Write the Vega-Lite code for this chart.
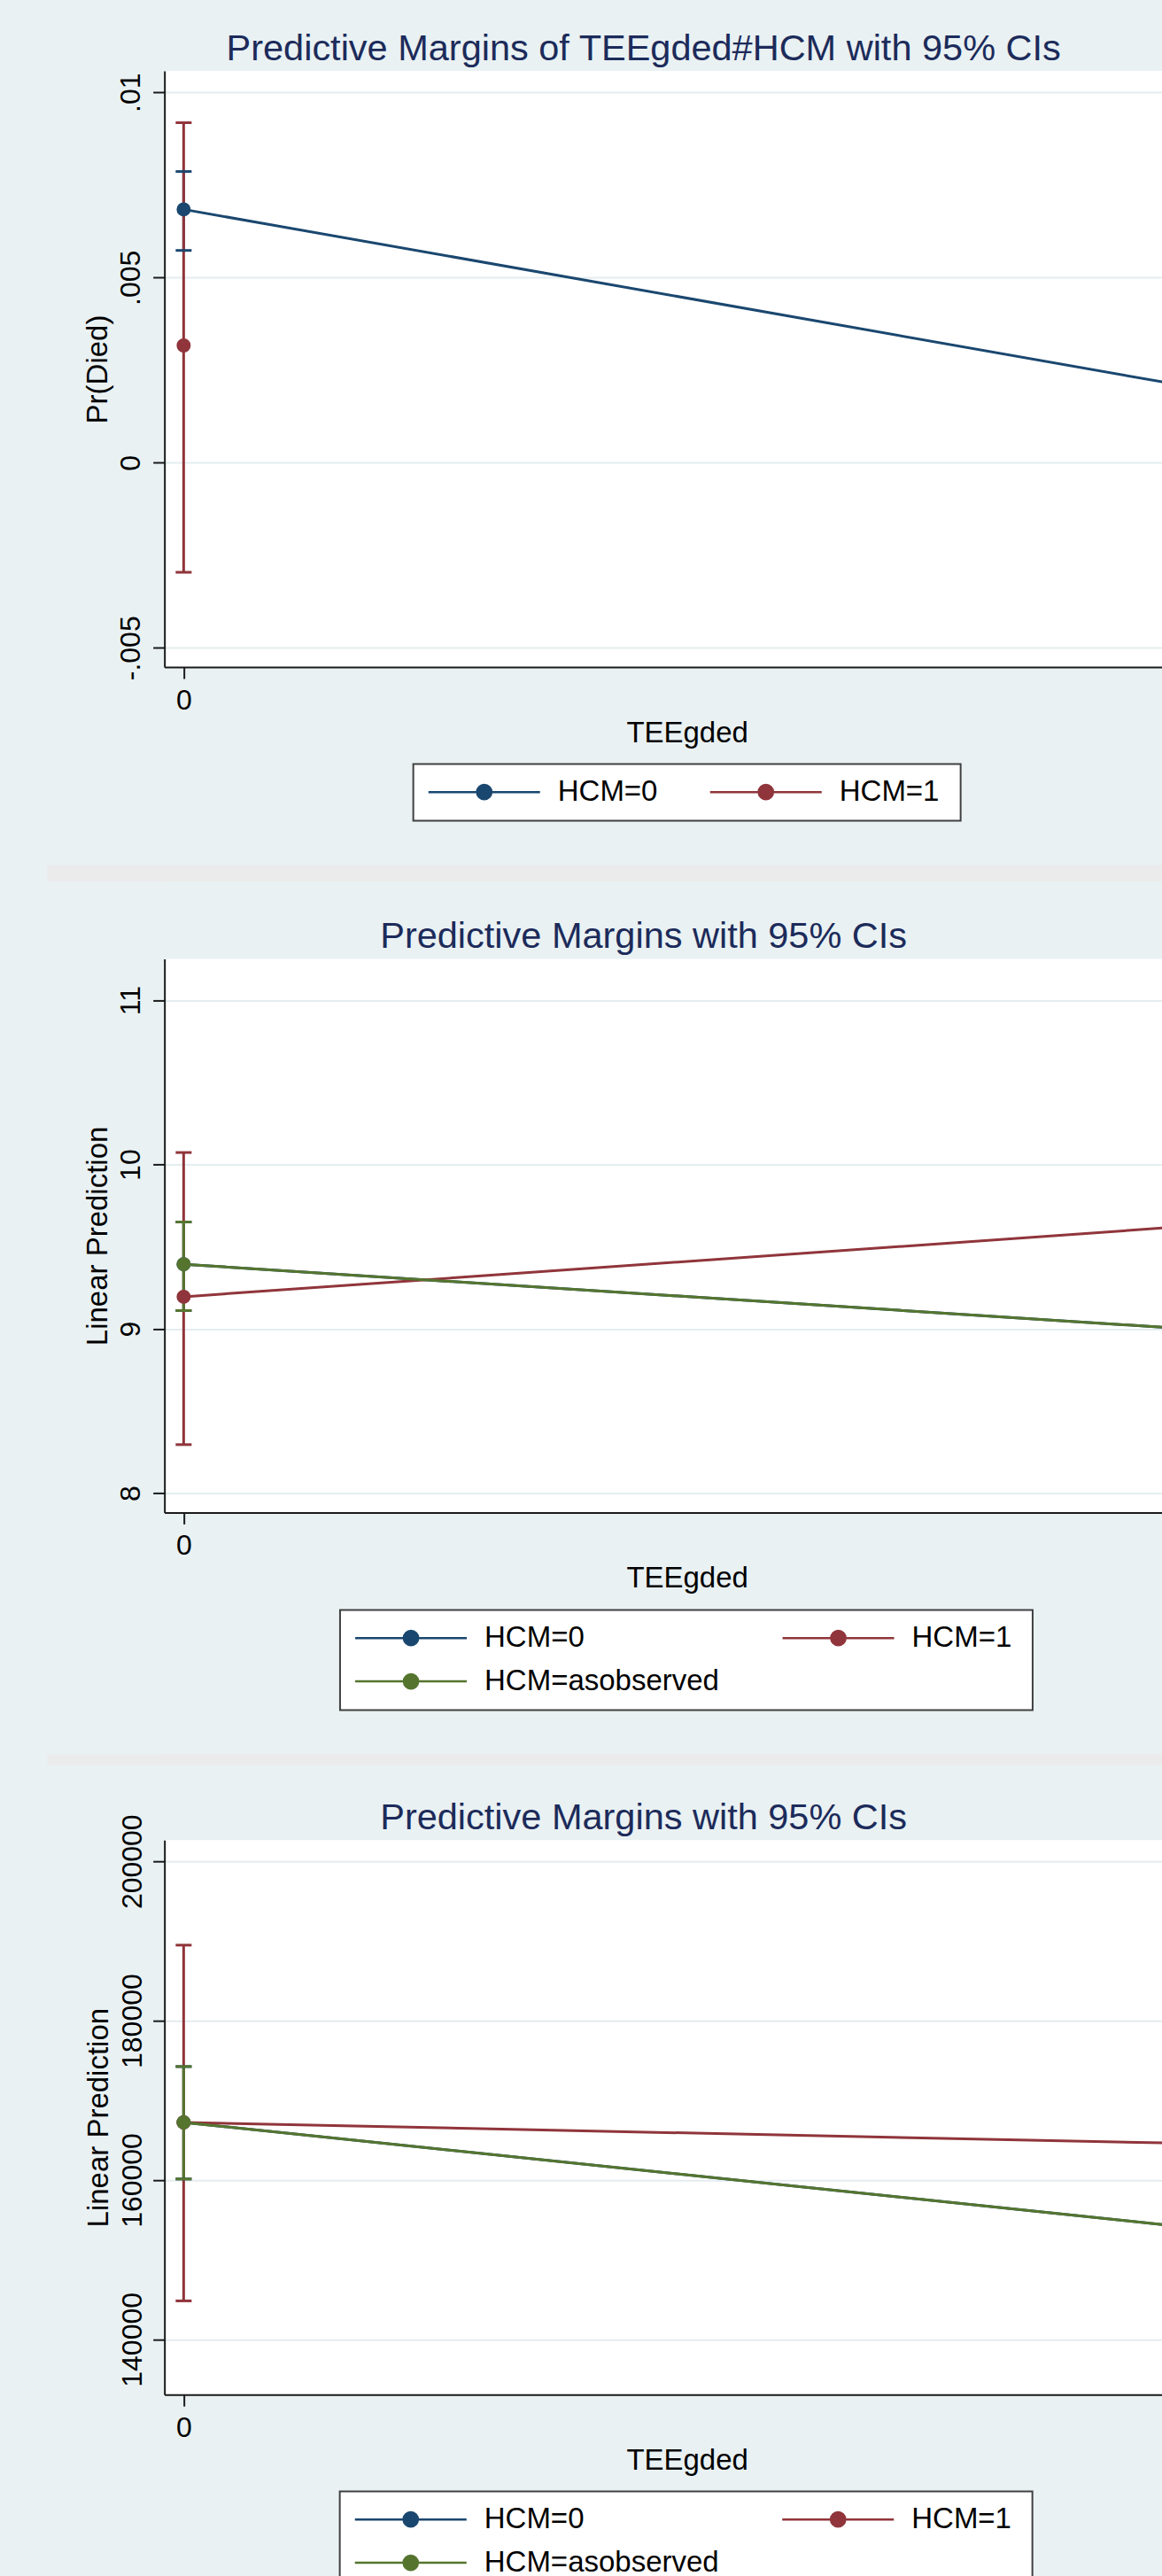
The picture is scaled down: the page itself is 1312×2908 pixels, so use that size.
{
  "$schema": "https://vega.github.io/schema/vega-lite/v6.json",
  "background": "#e9f1f3",
  "padding": {"left": 42.65, "top": 34, "right": 0, "bottom": 0},
  "config": {
    "font": "Liberation Sans",
    "view": {"fill": "#ffffff", "stroke": null},
    "axis": {
      "labelFont": "Liberation Sans", "labelFontSize": 32, "labelColor": "#000000",
      "titleFont": "Liberation Sans", "titleFontSize": 33, "titleFontWeight": "normal", "titleColor": "#000000",
      "tickSize": 13, "tickWidth": 2, "tickColor": "#1a1a1a",
      "domainColor": "#1a1a1a", "domainWidth": 2,
      "labelFlush": false, "labelOverlap": false,
      "gridColor": "#e4edf0", "gridWidth": 2
    },
    "axisX": {"grid": false, "labelBaseline": "alphabetic", "labelPadding": 34.2, "titleBaseline": "alphabetic", "titleAlign": "center"},
    "axisY": {"grid": true, "labelAngle": -90, "labelAlign": "center", "labelBaseline": "alphabetic", "labelPadding": 15, "titleBaseline": "alphabetic"},
    "legend": {
      "orient": "none", "direction": "horizontal", "columns": 2,
      "labelFont": "Liberation Sans", "labelFontSize": 33, "labelColor": "#000000", "labelLimit": 0,
      "labelOffset": 115.1, "padding": 15, "rowPadding": 15.2,
      "fillColor": "#ffffff", "strokeColor": "#404040", "strokeWidth": 2,
      "symbolType": "M-1.6,0H12.4M4.5,0A0.9,0.9,0,1,1,6.3,0A0.9,0.9,0,1,1,4.5,0Z",
      "symbolSize": 324, "symbolStrokeWidth": 2.5, "symbolOpacity": 1,
      "titleOrient": "right", "titlePadding": 8.5, "titleFontSize": 1, "titleColor": "#ffffff"
    },
    "title": {"font": "Liberation Sans", "fontSize": 41.5, "fontWeight": "normal", "color": "#1c2b5a", "anchor": "middle", "frame": "group", "offset": 3.8, "dx": -22.5}
  },
  "datasets": {
    "m": [
      {"p": 1, "s": "HCM=0", "x": 0, "est": 0.006839, "lo": 0.005731, "hi": 0.007862},
      {"p": 1, "s": "HCM=0", "x": 1, "est": 0.002048},
      {"p": 1, "s": "HCM=1", "x": 0, "est": 0.003164, "lo": -0.002961, "hi": 0.00918},
      {"p": 2, "s": "HCM=0", "x": 0, "est": 9.393, "lo": 9.111, "hi": 9.65},
      {"p": 2, "s": "HCM=0", "x": 1, "est": 8.999},
      {"p": 2, "s": "HCM=1", "x": 0, "est": 9.195, "lo": 8.295, "hi": 10.073},
      {"p": 2, "s": "HCM=1", "x": 1, "est": 9.625},
      {"p": 2, "s": "HCM=asobserved", "x": 0, "est": 9.393, "lo": 9.111, "hi": 9.65},
      {"p": 2, "s": "HCM=asobserved", "x": 1, "est": 8.999},
      {"p": 3, "s": "HCM=0", "x": 0, "est": 167230, "lo": 160130, "hi": 174240},
      {"p": 3, "s": "HCM=0", "x": 1, "est": 154050},
      {"p": 3, "s": "HCM=1", "x": 0, "est": 167230, "lo": 144830, "hi": 189480},
      {"p": 3, "s": "HCM=1", "x": 1, "est": 164580},
      {"p": 3, "s": "HCM=asobserved", "x": 0, "est": 167230, "lo": 160130, "hi": 174240},
      {"p": 3, "s": "HCM=asobserved", "x": 1, "est": 154050}
    ],
    "stripe": [{"v": 0.5}]
  },
  "spacing": 47.4,
  "resolve": {"scale": {"color": "independent", "y": "independent"}, "legend": {"color": "independent"}},
  "vconcat": [
    {
      "title": "Predictive Margins of TEEgded#HCM with 95% CIs",
      "width": 1127, "height": 673,
      "data": {"name": "m"},
      "transform": [{"filter": "datum.p == 1"}],
      "encoding": {
        "x": {"field": "x", "type": "quantitative", "scale": {"domain": [-0.0191, 0.9727], "nice": false, "zero": false},
              "axis": {"values": [0], "title": "TEEgded", "titleX": 590, "titleY": 84.5}},
        "color": {"field": "s", "type": "nominal",
                  "scale": {"domain": ["HCM=0", "HCM=1"], "range": ["#1a476f", "#90353b"]},
                  "legend": {"legendX": 281, "legendY": 782.4, "columnPadding": 54, "title": " "}}
      },
      "layer": [
        {"transform": [{"filter": "isValid(datum.lo)"}], "mark": {"type": "rule", "strokeWidth": 3},
         "encoding": {"y": {"field": "lo", "type": "quantitative", "scale": {"domain": [-0.00552, 0.01058], "nice": false, "zero": false},
                            "axis": {"values": [-0.005, 0, 0.005, 0.01], "title": "Pr(Died)", "titleX": -65, "labelExpr": "datum.value == 0 ? '0' : datum.value > 0.009 ? '.01' : datum.value > 0 ? '.005' : '-.005'"}},
                      "y2": {"field": "hi"}}},
        {"transform": [{"filter": "isValid(datum.lo)"}], "mark": {"type": "tick", "orient": "horizontal", "size": 18, "thickness": 3, "opacity": 1},
         "encoding": {"y": {"field": "lo", "type": "quantitative", "scale": {"domain": [-0.00552, 0.01058], "nice": false, "zero": false},
                            "axis": {"values": [-0.005, 0, 0.005, 0.01], "title": "Pr(Died)", "titleX": -65, "labelExpr": "datum.value == 0 ? '0' : datum.value > 0.009 ? '.01' : datum.value > 0 ? '.005' : '-.005'"}}}},
        {"transform": [{"filter": "isValid(datum.hi)"}], "mark": {"type": "tick", "orient": "horizontal", "size": 18, "thickness": 3, "opacity": 1},
         "encoding": {"y": {"field": "hi", "type": "quantitative", "scale": {"domain": [-0.00552, 0.01058], "nice": false, "zero": false},
                            "axis": {"values": [-0.005, 0, 0.005, 0.01], "title": "Pr(Died)", "titleX": -65, "labelExpr": "datum.value == 0 ? '0' : datum.value > 0.009 ? '.01' : datum.value > 0 ? '.005' : '-.005'"}}}},
        {"mark": {"type": "line", "strokeWidth": 3, "clip": true},
         "encoding": {"y": {"field": "est", "type": "quantitative", "scale": {"domain": [-0.00552, 0.01058], "nice": false, "zero": false},
                            "axis": {"values": [-0.005, 0, 0.005, 0.01], "title": "Pr(Died)", "titleX": -65, "labelExpr": "datum.value == 0 ? '0' : datum.value > 0.009 ? '.01' : datum.value > 0 ? '.005' : '-.005'"}}}},
        {"transform": [{"filter": "datum.x == 0"}], "mark": {"type": "circle", "size": 254, "opacity": 1},
         "encoding": {"y": {"field": "est", "type": "quantitative", "scale": {"domain": [-0.00552, 0.01058], "nice": false, "zero": false},
                            "axis": {"values": [-0.005, 0, 0.005, 0.01], "title": "Pr(Died)", "titleX": -65, "labelExpr": "datum.value == 0 ? '0' : datum.value > 0.009 ? '.01' : datum.value > 0 ? '.005' : '-.005'"}}}}
      ]
    },
    {
      "spacing": 41,
      "resolve": {"scale": {"color": "independent", "y": "independent"}, "legend": {"color": "independent"}},
      "vconcat": [
        {
          "width": 1127, "height": 18.7,
          "view": {"fill": "#ebebeb", "stroke": null},
          "data": {"name": "stripe"},
          "mark": {"type": "rule", "opacity": 0},
          "encoding": {"y": {"field": "v", "type": "quantitative", "scale": {"domain": [0, 1]},
                             "axis": {"values": [0.5], "domain": false, "labels": false, "grid": false, "title": null, "ticks": true, "tickSize": 133, "tickWidth": 18.7, "tickColor": "#ebebeb", "tickOpacity": 1}}}
        },
        {
          "spacing": 47.6,
          "resolve": {"scale": {"color": "independent", "y": "independent"}, "legend": {"color": "independent"}},
          "vconcat": [
            {
              "title": "Predictive Margins with 95% CIs",
              "width": 1127, "height": 625,
              "data": {"name": "m"},
              "transform": [{"filter": "datum.p == 2"}],
              "encoding": {
                "x": {"field": "x", "type": "quantitative", "scale": {"domain": [-0.0191, 0.9727], "nice": false, "zero": false},
                      "axis": {"values": [0], "title": "TEEgded", "titleX": 590, "titleY": 84.5}},
                "color": {"field": "s", "type": "nominal",
                          "scale": {"domain": ["HCM=0", "HCM=1", "HCM=asobserved"], "range": ["#1a476f", "#90353b", "#55752f"]},
                          "legend": {"legendX": 198.3, "legendY": 735, "columnPadding": 65.5, "title": " "}}
              },
              "layer": [
                {"transform": [{"filter": "isValid(datum.lo)"}], "mark": {"type": "rule", "strokeWidth": 3},
                 "encoding": {"y": {"field": "lo", "type": "quantitative", "scale": {"domain": [7.882, 11.252], "nice": false, "zero": false},
                                    "axis": {"values": [8, 9, 10, 11], "title": "Linear Prediction", "titleX": -65}},
                              "y2": {"field": "hi"}}},
                {"transform": [{"filter": "isValid(datum.lo)"}], "mark": {"type": "tick", "orient": "horizontal", "size": 18, "thickness": 3, "opacity": 1},
                 "encoding": {"y": {"field": "lo", "type": "quantitative", "scale": {"domain": [7.882, 11.252], "nice": false, "zero": false},
                                    "axis": {"values": [8, 9, 10, 11], "title": "Linear Prediction", "titleX": -65}}}},
                {"transform": [{"filter": "isValid(datum.hi)"}], "mark": {"type": "tick", "orient": "horizontal", "size": 18, "thickness": 3, "opacity": 1},
                 "encoding": {"y": {"field": "hi", "type": "quantitative", "scale": {"domain": [7.882, 11.252], "nice": false, "zero": false},
                                    "axis": {"values": [8, 9, 10, 11], "title": "Linear Prediction", "titleX": -65}}}},
                {"mark": {"type": "line", "strokeWidth": 3, "clip": true},
                 "encoding": {"y": {"field": "est", "type": "quantitative", "scale": {"domain": [7.882, 11.252], "nice": false, "zero": false},
                                    "axis": {"values": [8, 9, 10, 11], "title": "Linear Prediction", "titleX": -65}}}},
                {"transform": [{"filter": "datum.x == 0"}], "mark": {"type": "circle", "size": 254, "opacity": 1},
                 "encoding": {"y": {"field": "est", "type": "quantitative", "scale": {"domain": [7.882, 11.252], "nice": false, "zero": false},
                                    "axis": {"values": [8, 9, 10, 11], "title": "Linear Prediction", "titleX": -65}}}}
              ]
            },
            {
              "spacing": 38.2,
              "resolve": {"scale": {"color": "independent", "y": "independent"}, "legend": {"color": "independent"}},
              "vconcat": [
                {
                  "width": 1127, "height": 12.7,
                  "view": {"fill": "#ebebeb", "stroke": null},
                  "data": {"name": "stripe"},
                  "mark": {"type": "rule", "opacity": 0},
                  "encoding": {"y": {"field": "v", "type": "quantitative", "scale": {"domain": [0, 1]},
                                     "axis": {"values": [0.5], "domain": false, "labels": false, "grid": false, "title": null, "ticks": true, "tickSize": 133, "tickWidth": 12.7, "tickColor": "#ebebeb", "tickOpacity": 1}}}
                },
                {
                  "title": {"text": "Predictive Margins with 95% CIs", "offset": -25.7},
                  "width": 1127, "height": 626,
                  "data": {"name": "m"},
                  "transform": [{"filter": "datum.p == 3"}],
                  "encoding": {
                    "x": {"field": "x", "type": "quantitative", "scale": {"domain": [-0.0191, 0.9727], "nice": false, "zero": false},
                          "axis": {"values": [0], "title": "TEEgded", "titleX": 590, "titleY": 84.5}},
                    "color": {"field": "s", "type": "nominal",
                              "scale": {"domain": ["HCM=0", "HCM=1", "HCM=asobserved"], "range": ["#1a476f", "#90353b", "#55752f"]},
                              "legend": {"legendX": 198, "legendY": 735.2, "columnPadding": 65.5, "title": " "}}
                  },
                  "layer": [
                    {"transform": [{"filter": "isValid(datum.lo)"}], "mark": {"type": "rule", "strokeWidth": 3},
                     "encoding": {"y": {"field": "lo", "type": "quantitative", "scale": {"domain": [133070, 202670], "nice": false, "zero": false},
                                        "axis": {"values": [140000, 160000, 180000, 200000], "format": "d", "title": "Linear Prediction", "titleX": -64, "labelPadding": 13}},
                                  "y2": {"field": "hi"}}},
                    {"transform": [{"filter": "isValid(datum.lo)"}], "mark": {"type": "tick", "orient": "horizontal", "size": 18, "thickness": 3, "opacity": 1},
                     "encoding": {"y": {"field": "lo", "type": "quantitative", "scale": {"domain": [133070, 202670], "nice": false, "zero": false},
                                        "axis": {"values": [140000, 160000, 180000, 200000], "format": "d", "title": "Linear Prediction", "titleX": -64, "labelPadding": 13}}}},
                    {"transform": [{"filter": "isValid(datum.hi)"}], "mark": {"type": "tick", "orient": "horizontal", "size": 18, "thickness": 3, "opacity": 1},
                     "encoding": {"y": {"field": "hi", "type": "quantitative", "scale": {"domain": [133070, 202670], "nice": false, "zero": false},
                                        "axis": {"values": [140000, 160000, 180000, 200000], "format": "d", "title": "Linear Prediction", "titleX": -64, "labelPadding": 13}}}},
                    {"mark": {"type": "line", "strokeWidth": 3, "clip": true},
                     "encoding": {"y": {"field": "est", "type": "quantitative", "scale": {"domain": [133070, 202670], "nice": false, "zero": false},
                                        "axis": {"values": [140000, 160000, 180000, 200000], "format": "d", "title": "Linear Prediction", "titleX": -64, "labelPadding": 13}}}},
                    {"transform": [{"filter": "datum.x == 0"}], "mark": {"type": "circle", "size": 254, "opacity": 1},
                     "encoding": {"y": {"field": "est", "type": "quantitative", "scale": {"domain": [133070, 202670], "nice": false, "zero": false},
                                        "axis": {"values": [140000, 160000, 180000, 200000], "format": "d", "title": "Linear Prediction", "titleX": -64, "labelPadding": 13}}}}
                  ]
                }
              ]
            }
          ]
        }
      ]
    }
  ]
}
